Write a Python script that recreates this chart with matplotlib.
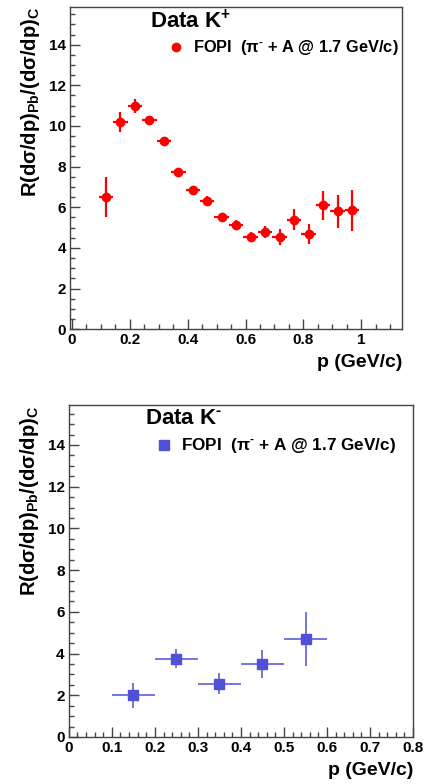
import matplotlib
matplotlib.use("Agg")
import matplotlib.pyplot as plt
from matplotlib.ticker import MultipleLocator

plt.rcParams['font.family'] = ['Liberation Sans', 'DejaVu Sans']
plt.rcParams['font.weight'] = 'bold'
plt.rcParams['mathtext.fontset'] = 'custom'
plt.rcParams['mathtext.rm'] = 'Liberation Sans:bold'
plt.rcParams['mathtext.bf'] = 'Liberation Sans:bold'
plt.rcParams['mathtext.it'] = 'Liberation Sans:bold'

# K+ data
kp_p = [0.118, 0.168, 0.218, 0.268, 0.318, 0.368, 0.418, 0.468, 0.518,
        0.568, 0.618, 0.668, 0.718, 0.768, 0.818, 0.868, 0.918, 0.968]
kp_r = [6.5, 10.2, 11.0, 10.3, 9.25, 7.75, 6.85, 6.3, 5.5,
        5.15, 4.55, 4.8, 4.55, 5.4, 4.7, 6.1, 5.8, 5.85]
kp_err = [1.0, 0.5, 0.35, 0.2, 0.15, 0.15, 0.2, 0.25, 0.2,
          0.25, 0.25, 0.3, 0.4, 0.5, 0.5, 0.7, 0.8, 1.0]
kp_xerr = 0.025

# K- data
km_p = [0.15, 0.25, 0.35, 0.45, 0.55]
km_r = [2.0, 3.75, 2.55, 3.5, 4.7]
km_err = [0.6, 0.45, 0.5, 0.65, 1.3]
km_xerr = 0.05

legend_text = 'FOPI  (π$^{\\text{-}}$ + A @ 1.7 GeV/c)'
ylabel = 'R(dσ/dp)$_{\\rm Pb}$/(dσ/dp)$_{\\rm C}$'

fig = plt.figure(figsize=(4.25, 7.84), dpi=100)
ax1 = fig.add_axes([0.165, 0.580, 0.781, 0.411])
ax2 = fig.add_axes([0.162, 0.060, 0.810, 0.423])

frame_col = '#444444'

def style(ax, xmaj, xmin):
    for s in ax.spines.values():
        s.set_color(frame_col)
        s.set_linewidth(1.0)
    ax.xaxis.set_major_locator(MultipleLocator(xmaj))
    ax.xaxis.set_minor_locator(MultipleLocator(xmin))
    ax.yaxis.set_major_locator(MultipleLocator(2))
    ax.yaxis.set_minor_locator(MultipleLocator(0.5))
    ax.tick_params(which='both', direction='in', top=False, right=False,
                   color=frame_col, labelsize=11)
    ax.tick_params(which='major', length=7.2, width=1.0, pad=3)
    ax.tick_params(which='minor', length=3.6, width=1.0)
    for lab in ax.get_xticklabels() + ax.get_yticklabels():
        lab.set_fontweight('bold')

# Top panel
ax1.errorbar(kp_p, kp_r, yerr=kp_err, xerr=kp_xerr, fmt='o', color='#ff0000',
             ms=6, elinewidth=1.6, capsize=0, zorder=3)
ax1.set_xlim(-0.005, 1.14)
ax1.set_ylim(0, 15.85)
style(ax1, 0.2, 0.05)
ax1.set_xticks([0, 0.2, 0.4, 0.6, 0.8, 1.0])
ax1.set_xticklabels(['0', '0.2', '0.4', '0.6', '0.8', '1'])
ax1.set_yticks(range(0, 16, 2))
ax1.set_ylabel(ylabel, fontsize=14.5, fontweight='bold', loc='top', labelpad=5)
ax1.set_xlabel('p (GeV/c)', fontsize=14, fontweight='bold', loc='right', labelpad=5)
ax1.text(0.24, 0.955, 'Data K$^{+}$', transform=ax1.transAxes, fontsize=16,
         fontweight='bold', va='center', ha='left')
ax1.plot([0.32], [0.875], 'o', color='#ff0000', ms=6, transform=ax1.transAxes)
ax1.text(0.37, 0.875, legend_text, transform=ax1.transAxes, fontsize=11.8,
         fontweight='bold', va='center', ha='left')

# Bottom panel
ax2.errorbar(km_p, km_r, yerr=km_err, xerr=km_xerr, fmt='none',
             ecolor='#6a6ae0', elinewidth=1.3, capsize=0, zorder=2)
ax2.plot(km_p, km_r, 's', color='#5050d8', ms=7.5, zorder=3)
ax2.set_xlim(0, 0.8)
ax2.set_ylim(0, 15.9)
style(ax2, 0.1, 0.02)
ax2.set_xticks([0, 0.1, 0.2, 0.3, 0.4, 0.5, 0.6, 0.7, 0.8])
ax2.set_xticklabels(['0', '0.1', '0.2', '0.3', '0.4', '0.5', '0.6', '0.7', '0.8'])
ax2.set_yticks(range(0, 16, 2))
ax2.set_ylabel(ylabel, fontsize=14.5, fontweight='bold', loc='top', labelpad=5)
ax2.set_xlabel('p (GeV/c)', fontsize=14, fontweight='bold', loc='right', labelpad=5)
ax2.text(0.22, 0.96, 'Data K$^{\\text{-}}$', transform=ax2.transAxes, fontsize=16,
         fontweight='bold', va='center', ha='left')
ax2.plot([0.275], [0.88], 's', color='#5050d8', ms=7.5, transform=ax2.transAxes)
ax2.text(0.325, 0.88, legend_text, transform=ax2.transAxes, fontsize=12.3,
         fontweight='bold', va='center', ha='left')

fig.savefig('out.png', dpi=100)
